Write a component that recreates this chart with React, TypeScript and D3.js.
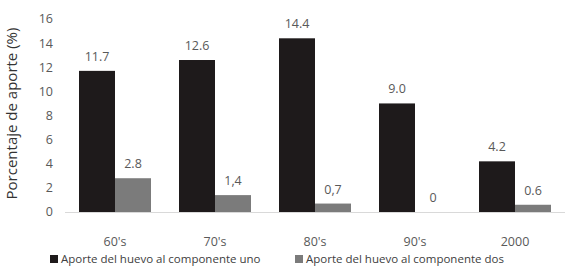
import { useEffect, useRef } from 'react';
import * as d3 from 'd3';

const categories = ["60's", "70's", "80's", "90's", '2000'];
const serieUno = [11.7, 12.6, 14.4, 9.0, 4.2];
const serieDos = [2.8, 1.4, 0.7, 0, 0.6];
const etiquetasUno = ['11.7', '12.6', '14.4', '9.0', '4.2'];
const etiquetasDos = ['2.8', '1,4', '0,7', '0', '0.6'];
const yTicks = [0, 2, 4, 6, 8, 10, 12, 14, 16];
const seriesNames = ['Aporte del huevo al componente uno', 'Aporte del huevo al componente dos'];
const colors = ['#1e1a1b', '#7b7b7b'];

export default function App() {
  const svgRef = useRef<SVGSVGElement>(null);

  useEffect(() => {
    if (!svgRef.current) return;
    const width = 567;
    const height = 271;
    const margin = { left: 65, right: 2, top: 19, bottom: 59 };

    const svg = d3.select(svgRef.current);
    svg.selectAll('*').remove();
    svg
      .attr('width', width)
      .attr('height', height)
      .style('font-family', '"Open Sans", sans-serif');

    const x = d3.scaleBand<string>()
      .domain(categories)
      .range([margin.left, width - margin.right])
      .paddingInner(0.28)
      .paddingOuter(0.14);

    const inner = d3.scaleBand<number>()
      .domain([0, 1])
      .range([0, x.bandwidth()]);

    const y = d3.scaleLinear()
      .domain([0, 16])
      .range([height - margin.bottom, margin.top]);

    // y tick labels
    svg.append('g')
      .selectAll('text')
      .data(yTicks)
      .join('text')
      .attr('x', 53)
      .attr('y', d => y(d))
      .attr('dy', '0.35em')
      .attr('text-anchor', 'end')
      .attr('fill', '#595959')
      .style('font-size', '12.5px')
      .text(d => d);

    // axis title
    svg.append('text')
      .attr('transform', `translate(17,${(y(0) + y(16)) / 2 - 2}) rotate(-90)`)
      .attr('text-anchor', 'middle')
      .attr('fill', '#333')
      .style('font-size', '15px')
      .text('Porcentaje de aporte (%)');

    const series = [serieUno, serieDos];
    const labels = [etiquetasUno, etiquetasDos];

    series.forEach((vals, si) => {
      svg.append('g')
        .selectAll('rect')
        .data(vals)
        .join('rect')
        .attr('x', (_d, i) => x(categories[i])! + inner(si)!)
        .attr('y', d => y(d))
        .attr('width', inner.bandwidth())
        .attr('height', d => y(0) - y(d))
        .attr('fill', colors[si]);

      svg.append('g')
        .selectAll('text')
        .data(vals)
        .join('text')
        .attr('x', (_d, i) => x(categories[i])! + inner(si)! + inner.bandwidth() / 2)
        .attr('y', d => y(d) - 10)
        .attr('text-anchor', 'middle')
        .attr('fill', '#595959')
        .style('font-size', '12.5px')
        .text((_d, i) => labels[si][i]);
    });

    // baseline
    svg.append('line')
      .attr('x1', margin.left)
      .attr('x2', width - margin.right)
      .attr('y1', y(0) + 0.5)
      .attr('y2', y(0) + 0.5)
      .attr('stroke', '#d9d9d9')
      .attr('stroke-width', 1);

    // category labels
    svg.append('g')
      .selectAll('text')
      .data(categories)
      .join('text')
      .attr('x', d => x(d)! + x.bandwidth() / 2)
      .attr('y', 246)
      .attr('text-anchor', 'middle')
      .attr('fill', '#595959')
      .style('font-size', '12.5px')
      .text(d => d);

    // legend
    const legendX = [50, 295];
    const legend = svg.append('g')
      .selectAll('g')
      .data(seriesNames)
      .join('g')
      .attr('transform', (_d, i) => `translate(${legendX[i]},263)`);
    legend.append('rect')
      .attr('x', 0)
      .attr('y', -8)
      .attr('width', 8)
      .attr('height', 8)
      .attr('fill', (_d, i) => colors[i]);
    legend.append('text')
      .attr('x', 11)
      .attr('y', 0)
      .attr('fill', '#404040')
      .style('font-size', '11.5px')
      .text(d => d);
  }, []);

  return (
    <div style={{ position: 'absolute', left: 0, top: 0, background: '#fff' }}>
      <svg ref={svgRef} />
    </div>
  );
}
